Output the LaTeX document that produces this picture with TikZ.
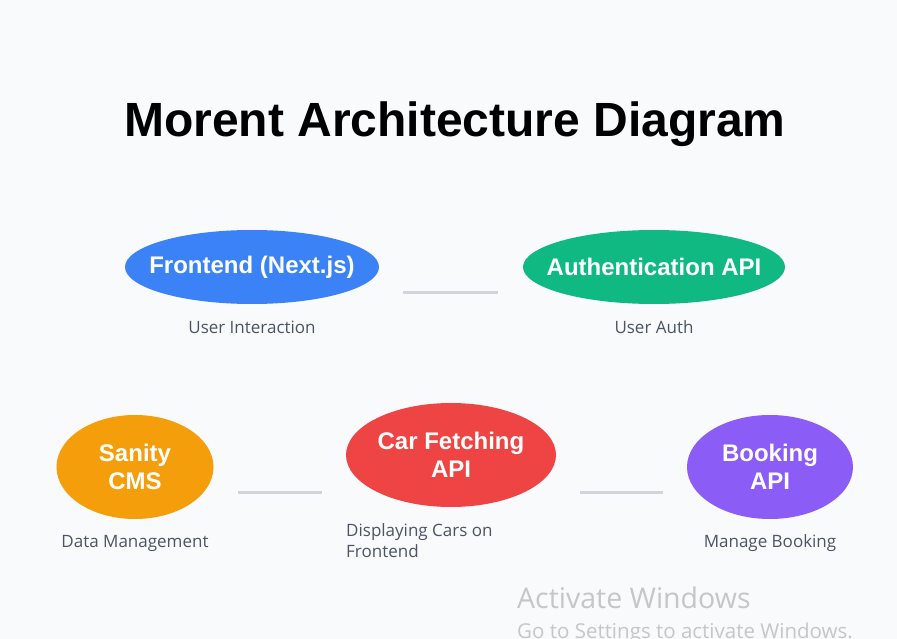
\documentclass[tikz,border=0pt]{standalone}
\usepackage{fontspec}
\setmainfont{Liberation Sans}
\newfontfamily\wmfont{Open Sans}
\newfontfamily\lblfont{Open Sans}
\usetikzlibrary{shapes.geometric}
\definecolor{bgc}{HTML}{F8FAFC}
\definecolor{cblue}{HTML}{3B82F6}
\definecolor{cgreen}{HTML}{10B981}
\definecolor{corange}{HTML}{F59E0B}
\definecolor{cred}{HTML}{EF4444}
\definecolor{cpurple}{HTML}{8B5CF6}
\definecolor{cline}{HTML}{D1D5DB}
\definecolor{clabel}{HTML}{4B5563}
\definecolor{cwm}{HTML}{C4C6C9}
\tikzset{
  blob/.style={ellipse, inner sep=0pt},
  blobtext/.style={inner sep=0pt, text=white, font=\fontsize{24}{28}\selectfont\bfseries, align=center},
  lbl/.style={text=clabel, font=\lblfont\fontsize{17}{21}\selectfont, inner sep=0pt},
  link/.style={draw=cline, line width=3pt},
}
\begin{document}
\begin{tikzpicture}[x=1pt,y=-1pt]
\fill[bgc] (0,0) rectangle (897,639);
\useasboundingbox (0,0) rectangle (897,639);
\node[font=\fontsize{48}{56}\selectfont\bfseries, inner sep=0pt, anchor=base] (title) at (455,137) {Morent Architecture Diagram};

\node[blob, fill=cblue, minimum width=254pt, minimum height=74pt, label={[blobtext]center:Frontend (Next.js)}] (fe) at (252,267) {};
\node[blob, fill=cgreen, minimum width=262pt, minimum height=74pt, label={[blobtext]center:Authentication API}] (auth) at (654,267) {};
\node[blob, fill=corange, minimum width=157pt, minimum height=104pt, label={[blobtext]center:Sanity\\CMS}] (cms) at (135,467) {};
\node[blob, fill=cred, minimum width=210pt, minimum height=104pt, label={[blobtext]center:Car Fetching\\API}] (car) at (451,455) {};
\node[blob, fill=cpurple, minimum width=166pt, minimum height=104pt, label={[blobtext]center:Booking\\API}] (book) at (770,467) {};

\coordinate (l1a) at (403,292); \coordinate (l1b) at (498,292);
\coordinate (l2a) at (238,492); \coordinate (l2b) at (322,492);
\coordinate (l3a) at (580,492); \coordinate (l3b) at (663,492);
\draw[link] (l1a) -- (l1b);
\draw[link] (l2a) -- (l2b);
\draw[link] (l3a) -- (l3b);

\node[lbl, anchor=base] (lfe) at (252,333) {User Interaction};
\node[lbl, anchor=base] (lauth) at (654,333) {User Auth};
\node[lbl, anchor=base] (lcms) at (135,547) {Data Management};
\node[lbl, anchor=base west, align=left] (lcar) at (346,557) {Displaying Cars on\\Frontend};
\node[lbl, anchor=base] (lbook) at (770,547) {Manage Booking};

\node[text=cwm, font=\wmfont\fontsize{28.5}{32}\selectfont, anchor=base west, inner sep=0pt] (wm1) at (517,608) {Activate Windows};
\node[text=cwm, font=\wmfont\fontsize{20.5}{24}\selectfont, anchor=base west, inner sep=0pt] (wm2) at (517,638) {Go to Settings to activate Windows.};
\end{tikzpicture}
\end{document}
